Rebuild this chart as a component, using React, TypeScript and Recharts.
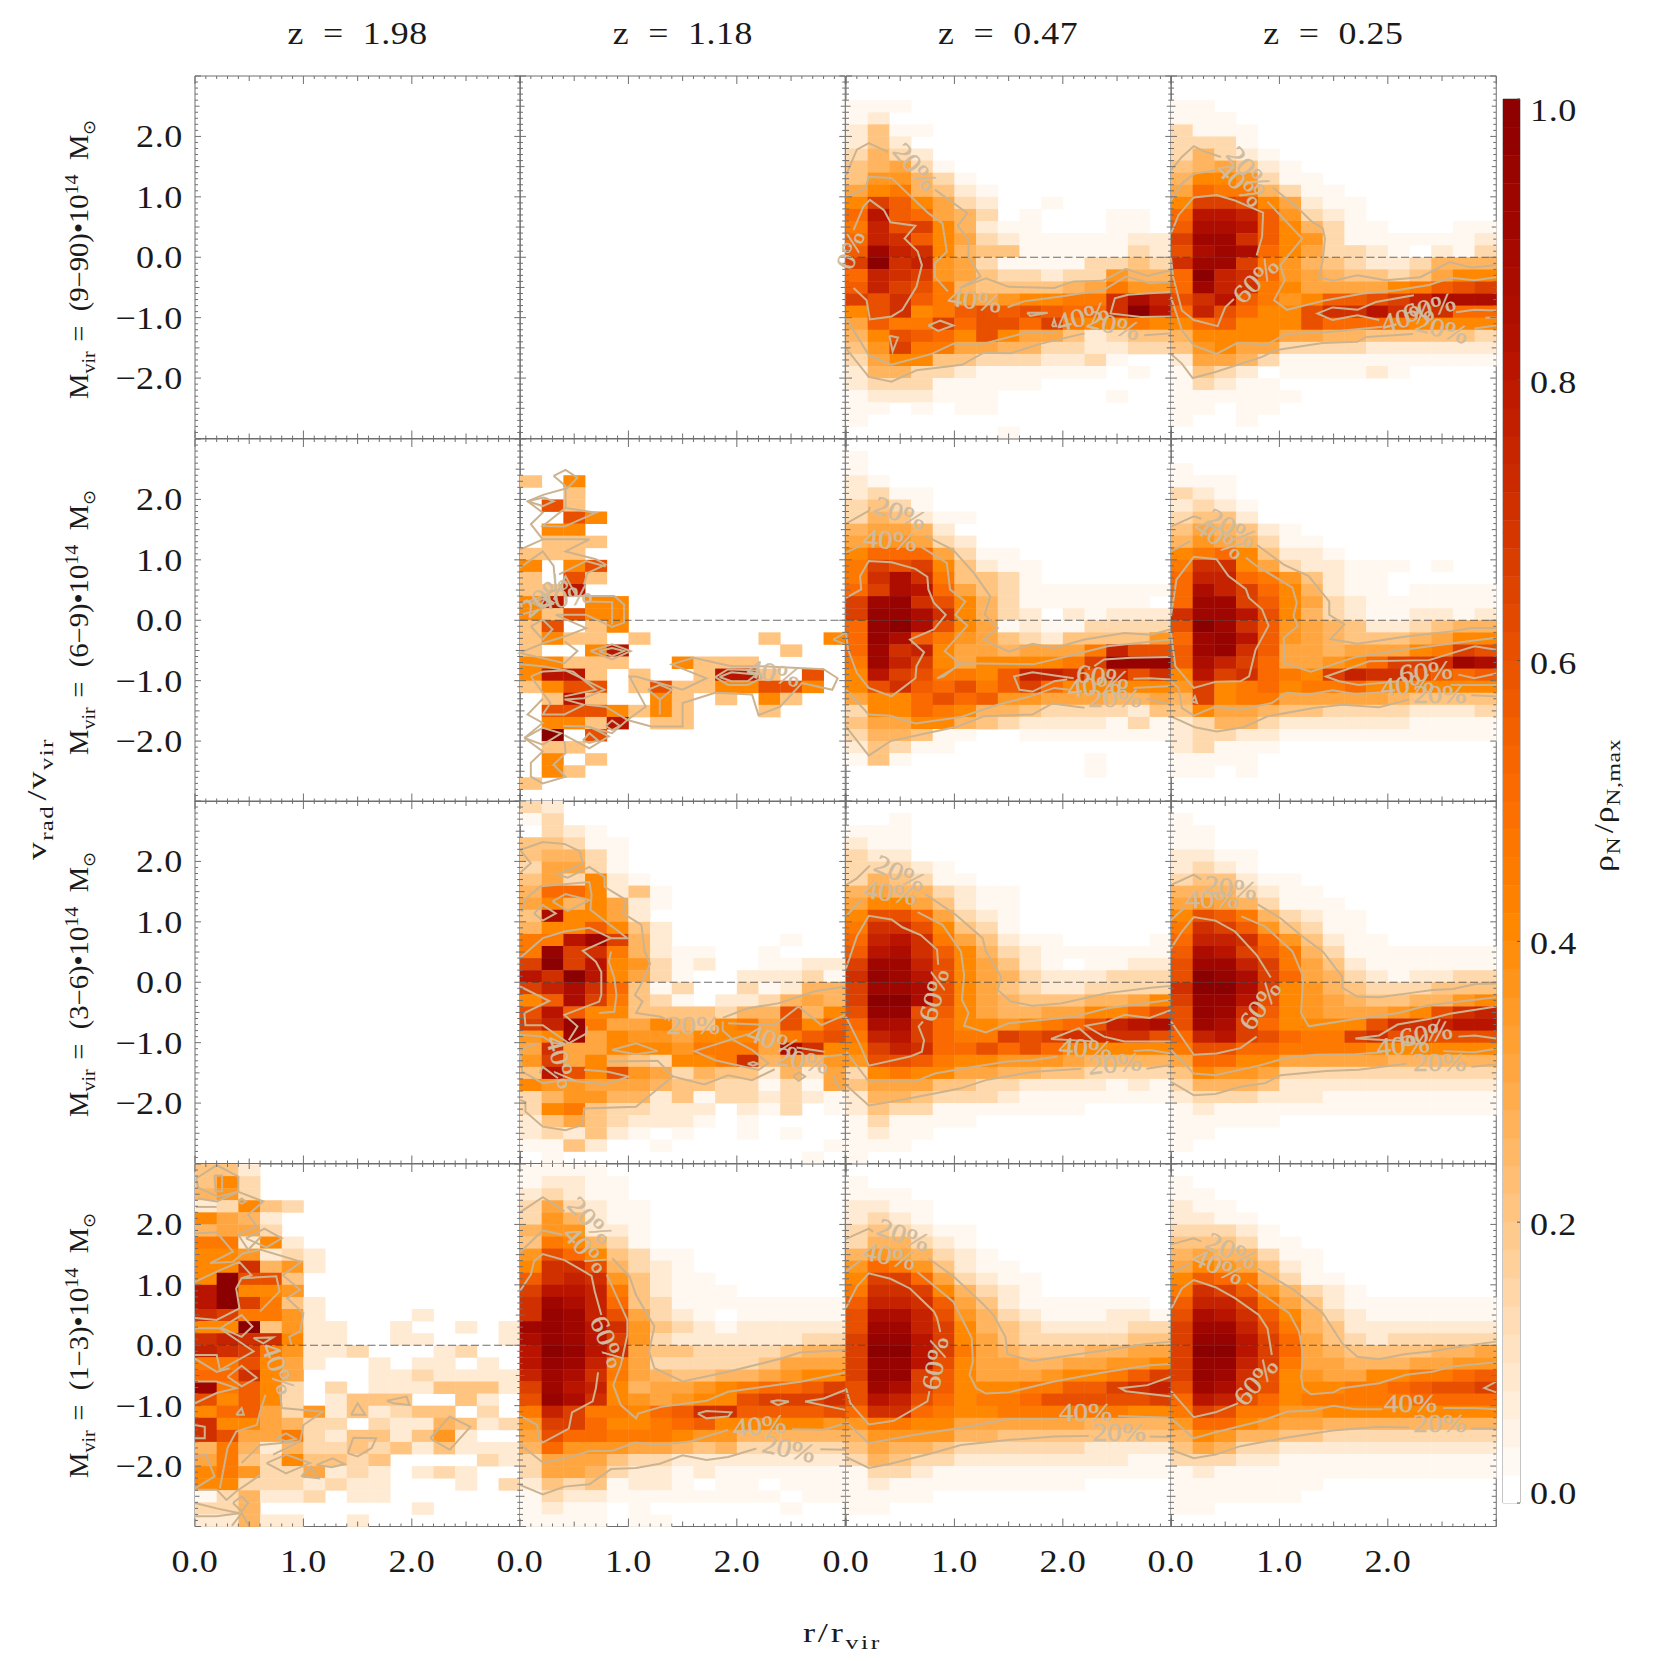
import { Scatter, ScatterChart, XAxis, YAxis } from "recharts";

const PANEL_LEFT = 195;
const PANEL_TOP = 76;
const PANEL_W = 325.25;
const PANEL_H = 362.5;
const PAD = 90;
const CELL_W = PANEL_W / 15;
const CELL_H = PANEL_H / 30;

const INK = "#1a1a1a";
const FRAME = "#6f6f6f";
const CONTOUR = "#ccb38f";
const TAG = "#cfbb9e";
const SERIF = "'Liberation Serif', serif";

const REDSHIFTS = ["1.98", "1.18", "0.47", "0.25"];
const MASS_BINS = ["(9−90)", "(6−9)", "(3−6)", "(1−3)"];
const MASS_LABEL_START = [399, 755, 1117, 1478];

const X_TICKS = [0, 0.1, 0.2, 0.3, 0.4, 0.5, 0.6, 0.7, 0.8, 0.9, 1, 1.1, 1.2, 1.3, 1.4, 1.5, 1.6, 1.7, 1.8, 1.9, 2, 2.1, 2.2, 2.3, 2.4, 2.5, 2.6, 2.7, 2.8, 2.9, 3];
const Y_TICKS = [-3, -2.9, -2.8, -2.7, -2.6, -2.5, -2.4, -2.3, -2.2, -2.1, -2, -1.9, -1.8, -1.7, -1.6, -1.5, -1.4, -1.3, -1.2, -1.1, -1, -0.9, -0.8, -0.7, -0.6, -0.5, -0.4, -0.3, -0.2, -0.1, 0, 0.1, 0.2, 0.3, 0.4, 0.5, 0.6, 0.7, 0.8, 0.9, 1, 1.1, 1.2, 1.3, 1.4, 1.5, 1.6, 1.7, 1.8, 1.9, 2, 2.1, 2.2, 2.3, 2.4, 2.5, 2.6, 2.7, 2.8, 2.9, 3];
const BAR_TICKS = [0, 0.2, 0.4, 0.6, 0.8, 1];
const BAR_LEVELS = [0, 0.02, 0.04, 0.06, 0.08, 0.1, 0.12, 0.14, 0.16, 0.18, 0.2, 0.22, 0.24, 0.26, 0.28, 0.3, 0.32, 0.34, 0.36, 0.38, 0.4, 0.42, 0.44, 0.46, 0.48, 0.5, 0.52, 0.54, 0.56, 0.58, 0.6, 0.62, 0.64, 0.66, 0.68, 0.7, 0.72, 0.74, 0.76, 0.78, 0.8, 0.82, 0.84, 0.86, 0.88, 0.9, 0.92, 0.94, 0.96, 0.98];
const ZERO_LINE = [{ x: 0, y: 0 }, { x: 3, y: 0 }];

// colour table
const STOP_V = [0, 0.1, 0.2, 0.3, 0.4, 0.5, 0.6, 0.7, 0.8, 0.9, 1];
const STOP_RGB = [
  [255, 255, 255],
  [255, 226, 194],
  [255, 196, 128],
  [255, 166, 64],
  [255, 136, 0],
  [250, 106, 0],
  [232, 80, 0],
  [208, 48, 0],
  [184, 20, 0],
  [160, 6, 0],
  [139, 0, 0],
];

// density per cell, top row first, one char per cell, index into LEVEL_V
const LEVEL_CHARS = "0123456789abcdefghijk";
const LEVEL_V = [0, 0.025, 0.07, 0.13, 0.2, 0.25, 0.3, 0.35, 0.4, 0.45, 0.5, 0.55, 0.6, 0.65, 0.7, 0.75, 0.8, 0.85, 0.9, 0.95, 1];

const RHO_M1_Z047 = [
  "000000000000000", "000000000000000", "111000000000000", "120000000000000", "241100000000000", "242000000000000",
  "353200000000000", "456310000000000", "477531000000000", "689542100000000", "8db863200100000", "agba65301000110",
  "9fcd85211000110", "afeb86321111122", "bife85441111132", "dkef76311113343", "afed76433233755", "bfdc95444456977",
  "dceb97678899ehf", "8ce89bcbcbaaekg", "6b99daccad98898", "58cba8c86642344", "47d996655332233", "368844333223100",
  "255332111111010", "233311111000000", "122211100000100", "110101100000000", "100000000000000", "000000010000000",
];
const RHO_M1_Z025 = [
  "000000000000000", "000000000000000", "110000000000000", "111000000000000", "311100000000000", "333100000000000",
  "353210000000000", "456421000000000", "588731100000000", "6a9953110000000", "8ddc86211000000", "aggfb7321000000",
  "bhhgb8531100011", "diieb8731111112", "chiha8633210213", "eiid97543223555", "akfea7654434688", "aife98666689bcd",
  "cegb978bbcdfhhh", "afca88ceegeeeaa", "8ab888caaa98888", "588886655444443", "478663333222222", "266531111111111",
  "143201111210000", "132110000000000", "111111000000000", "110110000000000", "100100000000000", "000000000000000",
];
const RHO_M2_Z118 = [
  "000000000000000", "000000000000000", "000000000000000", "408000000000000", "004000000000000", "0c4000000000000",
  "00c800000000000", "088000000000000", "044400000000000", "444000000000000", "808c00000000000", "40c400000000000",
  "44g000000000000", "8g0880000000000", "84c880000000000", "4c0480000000000", "484404000004008", "4008g0000000400",
  "884440084440000", "8gg404004gg40c0", "48cc04c4488cc80", "04g400840408400", "0ccc84840004000", "0884g0440000000",
  "0k0c00000000000", "044000000000000", "080400000000000", "084000000000000", "400000000000000", "000000000000000",
];
const RHO_M2_Z047 = [
  "000000000000000", "100000000000000", "100000000000000", "210000000000000", "231100000000000", "343100000000000",
  "354211000000000", "566520000000000", "677632000000000", "8aaa63110000000", "9dcd84211000000", "9ehe94431000000",
  "adhga6431111111", "dijec8531111110", "djjhe8532021222", "ajkhc8612113333", "ajhb97643244447", "aief86656669fcc",
  "9ifd8688889djjj", "8gdc998bffebece", "8cebac9bda88888", "688acab77666556", "388a98554333324", "466885432222131",
  "355411001111111", "243110000000000", "141000000001000", "000000000001000", "000000000000000", "000000000000000",
];
const RHO_M2_Z025 = [
  "000000000000000", "000000000000000", "100000000000000", "111000000000000", "321000000000000", "232100000000000",
  "344200000000000", "465421000000000", "576531100000000", "89a842210000000", "9ee863221110100", "affa97421100000",
  "ahfda8521101111", "aiidb8632111111", "eiigc8532112212", "ckieb7654223455", "aijgb7654445688", "bijeb66566689dc",
  "bhfda6678addeih", "8gdea98dfeecbab", "7d89a899a888888", "5d8996666654444", "486654433332223", "235532222221111",
  "233221111111111", "231110000000000", "111100000000000", "110100000000000", "000000000000000", "000000000000000",
];
const RHO_M3_Z118 = [
  "320000000000000", "130000000000000", "032100000000000", "443110000000000", "455310000000000", "366310000000000",
  "463821000000000", "5aa824100000000", "685862100000000", "4h8862000000000", "588b84200000000", "99gid5200000100",
  "9jde95211001000", "dkdg87312001122", "gekg86310022231", "dfhea4130031255", "8bhd94310223565", "cgb884444355c58",
  "dfj966854896c8b", "78i6877688869bc", "6e6688879996he8", "7d68543889e5657", "4gc8c7635442526", "877666544331316",
  "357755241332321", "389433222021301", "246432221010000", "232421010010100", "114200100000001", "010000000000010",
];
const RHO_M3_Z047 = [
  "000000000000000", "001000000000000", "111000000000000", "211000000000000", "322000000000000", "333210000000000",
  "354311000000000", "565532110000000", "688642110000000", "8cca63210000000", "9eec84310000000", "afge96421100001",
  "bgheb8532111111", "diifc8642101122", "ejigc8653222333", "diihc8643223333", "dkkhc8654445568", "cjjcb86556688ac",
  "ahhda88789acfgh", "9fgda99dcdeeeec", "8dfeaacaca88888", "7ccb98877765555", "389886655443333", "466644332222121",
  "255433321111111", "243311111110000", "131111000000000", "121100000000000", "111000000000000", "100000000000000",
];
const RHO_M3_Z025 = [
  "000000000000000", "100000000000000", "110000000000000", "110000000000000", "221100000000000", "232100000000000",
  "344211000000000", "555321100000000", "676531110000000", "8cb953211000000", "9edb74311000000", "affea7421100000",
  "bhgdb9531111111", "ciifd9642111111", "ckjhda653212233", "ekkhd8754333444", "djjgc8765445578", "cjieb8766678cef",
  "cihda8888ceefgg", "afgdca99decdccc", "9ccaa9999888888", "6aa886666655555", "487763333333333", "355542222222222",
  "233322211111111", "121111111111111", "111110000000000", "110000000000000", "100000000000000", "000000000000000",
];
const RHO_M4_Z198 = [
  "442000000000000", "483000000000000", "573000000000000", "238430000000000", "865200000000000", "566300000000000",
  "992820000000000", "887232000000000", "88e572000000000", "8kcc40000000000", "gk8870000000000", "gkd942000000000",
  "ed9972000020000", "88k472200200202", "efee82200220002", "fed972230002300", "99c862002022020", "aae860002232222",
  "i9b830302224442", "c8b830244400420", "8ab637242344030", "e88653303225423", "ec6693244247200", "595253343424222",
  "694384434000032", "897336232023200", "883332322000203", "135223022000000", "335000000020000", "225220020000000",
];
const RHO_M4_Z118 = [
  "111100000000000", "122110000000000", "232110000000000", "363211000000000", "375211000000000", "577221000000000",
  "498531000000000", "7ca843110000000", "8eec53210000000", "befe74211000000", "dggf94211100000", "eihfa4311111111",
  "ejifc6321011111", "ijige7432122222", "hjigd7322222233", "gkjge6443333455", "gjif96333334666", "fihe96544556788",
  "digf8566789aabd", "cjhe876788cddde", "9fd998abeebbbbc", "7dda889ab888887", "6caa99987755555", "5a7776654533333",
  "366643322222222", "366532212111111", "243412210110111", "132211111111011", "121101000000100", "111101100000000",
];
const RHO_M4_Z047 = [
  "000000000000000", "100000000000000", "111000000000000", "221100000000000", "232100000000000", "343211000000000",
  "355321000000000", "576532100000000", "7a9742110000000", "8dda63211000000", "9eed85321000000", "bffeb6421111110",
  "chhfc7532111221", "ciifd8543222233", "djjgd8643333344", "dkkgd9654445566", "djjgc8665566778", "djjdb86667889bd",
  "cihdb88899bbdef", "cgfca899acccccd", "aeea98899999988", "799886666665555", "577775544444444", "465543333332222",
  "354332222222211", "133211111111111", "121111111110000", "111100000000000", "110000000000000", "000000000000000",
];
const RHO_M4_Z025 = [
  "000000000000000", "100000000000000", "110000000000000", "211000000000000", "221100000000000", "333210000000000",
  "444311000000000", "565531100000000", "687642100000000", "8ba953110000000", "9edb75321000000", "bffd96421111111",
  "chgeb8532111111", "diifc9542222222", "djjgda643233333", "dkkgda654444556", "djjfd9665556677", "djiec87668899ab",
  "cihec88899abccd", "agfca899999aaaa", "9dc997788888888", "7aa876655555555", "587554433333333", "465332222222222",
  "333221111111111", "121111111111111", "111111100000000", "111111000000000", "110000000000000", "000000000000000",
];

// contour polylines as [r/rvir, vrad/vvir]
const LINES_M1_Z047 = [
  [[0, 1.36], [0.1, 1.78], [0.21, 1.89], [0.39, 1.74]],
  [[0.82, 1.12], [1.12, 0.73], [1.03, 0.52], [1.13, 0.29], [1.13, 0.01], [1.24, -0.32], [1.05, -0.51], [1.29, -0.35], [1.5, -0.49], [1.92, -0.51], [2.1, -0.4], [2.37, -0.39], [2.58, -0.19], [2.78, -0.31], [3, -0.21]],
  [[0, -1.51], [0.21, -1.98], [0.42, -2.06], [0.65, -1.87], [1.07, -1.78], [1.27, -1.58], [1.52, -1.59], [1.8, -1.43], [2.2, -1.26]],
  [[2.75, -1.29], [3, -1.26]],
  [[0, 1], [0.18, 1.14], [0.21, 1.33], [0.42, 1.31], [0.76, 0.73], [0.89, 0.56], [0.93, 0.09], [0.82, -0.1], [0.82, -0.32], [0.94, -0.57]],
  [[1.49, -0.83], [1.64, -0.73], [1.98, -0.65], [2.38, -0.54], [2.58, -0.32], [2.81, -0.43], [3, -0.4]],
  [[0, -1.01], [0.21, -1.62], [0.42, -1.78], [0.79, -1.6], [0.99, -1.43], [1.27, -1.43], [1.7, -1.23], [1.95, -1.26]],
  [[0.07, 0.45], [0.16, 0.84], [0.22, 0.95], [0.35, 0.78], [0.41, 0.58], [0.64, 0.52], [0.54, 0.31], [0.66, 0.1], [0.7, -0.13], [0.65, -0.49], [0.52, -0.87], [0.42, -0.98], [0.22, -1.03], [0.19, -0.71], [0.07, -0.51]],
  [[3, -0.57], [2.6, -0.62], [2.48, -0.68], [2.44, -0.93], [2.72, -0.99], [3, -0.98]],
  [[0.76, -1.13], [0.87, -1.05], [0.99, -1.13], [0.85, -1.22], [0.76, -1.13]],
  [[0.4, -1.3], [0.48, -1.33], [0.43, -1.56], [0.4, -1.3]],
  [[1.67, -0.92], [1.86, -0.92], [1.7, -0.97], [1.67, -0.92]],
  [[1.9, -1.14], [1.94, -1.14], [1.92, -1.03], [1.9, -1.14]],
];
const TAGS_M1_Z047 = [
  ["20%", 0.64, 1.5, 50], ["40%", 1.19, -0.71, 8], ["40%", 2.18, -0.98, -15], ["20%", 2.47, -1.12, 15], ["0%", 0.04, 0.12, -70],
];
const LINES_M1_Z025 = [
  [[0, 1.44], [0.1, 1.66], [0.21, 1.84], [0.31, 1.75], [0.46, 1.66]],
  [[0.94, 1.15], [1.16, 0.83], [1.3, 0.59], [1.4, 0.48], [1.42, 0.31], [1.4, -0.05], [1.36, -0.33], [1.5, -0.39], [1.72, -0.3], [1.98, -0.38], [2.3, -0.33], [2.57, -0.08], [2.77, -0.17], [3, -0.13]],
  [[0, -1.6], [0.1, -1.76], [0.2, -2], [0.41, -1.9], [0.84, -1.65], [0.96, -1.54], [1.4, -1.42], [1.72, -1.4], [1.8, -1.32], [2.23, -1.27]],
  [[2.8, -1.18], [3, -1.13]],
  [[0, 0.94], [0.1, 1.22], [0.21, 1.38], [0.41, 1.44]],
  [[0.89, 0.92], [1.21, 0.31], [1.01, -0.13], [1.05, -0.38], [0.95, -0.71], [1.07, -0.87], [1.43, -0.71], [1.77, -0.6], [2.07, -0.55], [2.38, -0.46], [2.58, -0.34], [2.8, -0.38], [3, -0.33]],
  [[0, -0.66], [0.1, -1.21], [0.21, -1.46], [0.42, -1.6], [0.61, -1.42], [0.89, -1.44], [1.06, -1.27], [1.43, -1.24], [1.95, -1.15]],
  [[2.63, -0.91], [2.8, -0.87], [3, -0.88]],
  [[2.9, -1], [3, -1]],
  [[0, 0.39], [0.07, 0.7], [0.21, 0.99], [0.42, 1.03], [0.59, 0.94], [0.85, 0.74], [0.84, 0.34], [0.79, 0.03]],
  [[0.58, -0.69], [0.5, -0.83], [0.43, -1.14], [0.21, -1.04], [0.1, -0.88], [0.02, -0.33], [0, 0]],
  [[2.24, -0.63], [1.89, -0.74], [1.72, -0.87], [1.49, -0.83], [1.35, -0.93], [1.49, -1.04], [1.72, -0.96], [1.92, -1.04]],
];
const TAGS_M1_Z025 = [
  ["20%", 0.72, 1.44, 50], ["40%", 0.64, 1.22, 45], ["60%", 0.78, -0.38, -45], ["40%", 2.18, -0.99, -15], ["60%", 2.38, -0.83, -15], ["20%", 2.5, -1.18, 15],
];
const LINES_M2_Z118 = [
  [[0.31, 2.39], [0.42, 2.49], [0.53, 2.36], [0.44, 2.19], [0.31, 2.39]],
  [[0.44, 2.19], [0.22, 2.08], [0.07, 1.97], [0.21, 1.78], [0.1, 1.59], [0.21, 1.34], [0, 1.17]],
  [[0.07, 1.97], [0.22, 2.03], [0.31, 1.97], [0.21, 1.89], [0.07, 1.97]],
  [[0.42, 2.17], [0.42, 1.86], [0.7, 1.78], [0.41, 1.55], [0.21, 1.56], [0.42, 1.86]],
  [[0.21, 1.34], [0.64, 1.34], [0.42, 1.14], [0.7, 1.01], [0.79, 0.92], [0.62, 0.78], [0.59, 0.59]],
  [[0, 0.87], [0.21, 1.14], [0.31, 0.9], [0.33, 0.51], [0.21, 0.4]],
  [[0.36, 0.76], [0.61, 0.98], [0.79, 0.89]],
  [[0.31, 0.34], [0.42, 0.73], [0.52, 0.4], [0.61, 0.4], [0.87, 0.4], [0.96, 0.26], [0.96, -0.04], [0.85, -0.11], [0.61, 0.09], [0.33, 0.09]],
  [[0.61, 0.31], [0.85, 0.3], [0.85, -0.07]],
  [[0, 0.26], [0.21, 0.4], [0.31, 0.29], [0.19, 0.18], [0, 0.09]],
  [[0.11, 0.29], [0.21, 0.36], [0.28, 0.29], [0.21, 0.2], [0.11, 0.29]],
  [[0.1, -0.1], [0.21, 0.01], [0.3, -0.15], [0.21, -0.32], [0.1, -0.1]],
  [[0.33, 0.09], [0.61, -0.13], [0.41, -0.27], [0.21, -0.38], [0, -0.54], [0.41, -0.71], [0.53, -0.51], [0.41, -0.35]],
  [[0.65, -0.51], [0.85, -0.4], [1.02, -0.51], [0.85, -0.65], [0.65, -0.51]],
  [[0.73, -0.51], [0.85, -0.46], [0.96, -0.51], [0.85, -0.59], [0.73, -0.51]],
  [[0, -0.73], [0.21, -0.76], [0.49, -0.85], [0.7, -1.15], [0.41, -1.26]],
  [[0.1, -0.93], [0.21, -0.85], [0.42, -0.83], [0.59, -0.98], [0.78, -1.15], [0.59, -1.29], [0.41, -1.31], [0.59, -1.4], [0.41, -1.56], [0.21, -1.56], [0.28, -1.37], [0.21, -1.2], [0.1, -0.93]],
  [[0.61, -1.4], [0.79, -1.43], [0.99, -1.65], [0.85, -1.87], [0.61, -1.76], [0.4, -1.75]],
  [[0.79, -1.75], [0.85, -1.66], [0.92, -1.75], [0.85, -1.82], [0.79, -1.75]],
  [[0.99, -1.65], [1.16, -1.43], [1.01, -0.93], [1.07, -0.93], [1.5, -1.15], [1.72, -0.96], [1.4, -0.73], [1.6, -0.62], [1.95, -0.76], [2.2, -0.76], [2.8, -0.81], [2.93, -0.96], [2.88, -1.15], [2.6, -1.04], [2.4, -1.43], [2.2, -1.57], [2.14, -1.23], [1.8, -1.2], [1.5, -1.37], [1.5, -1.76], [1.21, -1.76], [0.99, -1.65]],
  [[1.8, -0.94], [1.92, -0.81], [2.2, -0.83], [2.23, -0.96], [2.1, -1.07], [1.92, -1.07], [1.8, -0.94]],
  [[1.84, -0.94], [1.95, -0.86], [2.18, -0.9], [2.1, -1.01], [1.95, -1.01], [1.84, -0.94]],
  [[1.18, -1.15], [1.29, -1.07], [1.4, -1.15], [1.29, -1.31], [1.29, -1.56]],
  [[1.18, -1.15], [1.29, -1.31]],
  [[2.89, -0.32], [3, -0.21]],
  [[2.89, -0.32], [3, -0.4]],
  [[0.04, -1.95], [0.21, -1.7], [0.07, -1.56], [0.21, -1.3]],
  [[0.04, -1.95], [0.21, -2.17], [0.1, -2.36], [0.1, -2.59], [0.21, -2.7], [0.42, -2.59], [0.31, -2.39], [0.42, -2.2], [0.41, -2]],
  [[0.04, -1.95], [0.21, -1.78], [0.38, -1.87], [0.21, -2.06], [0.04, -1.95]],
  [[0.41, -1.9], [0.64, -2.12], [0.82, -1.92], [0.64, -1.76]],
  [[0.58, -1.99], [0.64, -1.87], [0.72, -1.99], [0.64, -2.03], [0.58, -1.99]],
];
const TAGS_M2_Z118 = [
  ["40%", 2.34, -0.87, 12], ["20%", 0.22, 0.42, -40], ["40%", 0.42, 0.38, -10],
];
const LINES_M2_Z047 = [
  [[0, 1.6], [0.21, 1.81], [0.22, 1.88]],
  [[0.73, 1.4], [0.99, 1.16], [1.18, 0.78], [1.33, 0.4], [1.28, 0.09], [1.4, -0.13], [1.27, -0.32], [1.5, -0.52], [1.72, -0.39], [1.92, -0.46], [2.2, -0.32], [2.57, -0.21], [2.81, -0.24], [3, -0.15]],
  [[0, -1.76], [0.21, -2.24], [0.41, -2], [1.03, -1.76], [1.27, -1.59], [1.72, -1.56], [1.9, -1.38], [2.2, -1.45]],
  [[2.77, -1.3], [3, -1.4]],
  [[0, 1.12], [0.14, 1.24]],
  [[0.69, 1.22], [0.93, 0.95], [0.96, 0.51], [1.1, 0.31], [1.01, 0.09], [1.12, -0.09], [0.91, -0.51], [1.06, -0.73], [0.84, -0.96], [0.9, -0.93], [1.06, -0.71], [1.73, -0.73], [2.1, -0.57], [2.41, -0.43], [3, -0.32]],
  [[0, -1.15], [0.21, -1.56], [0.41, -1.58], [0.64, -1.71], [1.06, -1.6], [1.4, -1.4], [1.7, -1.26], [1.92, -1.12], [2.06, -1.15]],
  [[2.65, -1.12], [3, -1.09]],
  [[0, 0.37], [0.14, 0.51], [0.13, 0.73], [0.21, 0.98], [0.42, 0.96], [0.64, 0.85], [0.75, 0.72], [0.76, 0.51], [0.81, 0.29], [0.92, 0.09], [0.81, -0.15], [0.59, -0.32], [0.72, -0.53], [0.65, -0.76], [0.64, -0.96], [0.42, -1.26], [0.21, -1.12], [0.1, -0.87], [0.02, -0.49], [0, -0.21]],
  [[2.1, -0.96], [1.72, -0.86], [1.55, -0.93], [1.6, -1.15], [1.72, -1.18], [1.92, -1.01], [2.04, -0.98]],
  [[2.29, -0.76], [2.38, -0.65], [2.63, -0.62], [3, -0.61]],
  [[2.65, -0.97], [2.8, -0.96], [3, -0.98]],
];
const TAGS_M2_Z047 = [
  ["20%", 0.5, 1.78, 20], ["40%", 0.41, 1.33, 5], ["60%", 2.37, -0.93, 8], ["40%", 2.29, -1.09, -5], ["20%", 2.48, -1.29, 0],
];
const LINES_M2_Z025 = [
  [[0, 1.55], [0.21, 1.72], [0.28, 1.68]],
  [[0.79, 1.25], [1.04, 0.92], [1.27, 0.73], [1.46, 0.31], [1.46, 0.09], [1.6, -0.07], [1.47, -0.31], [1.72, -0.39], [2.17, -0.27], [2.6, -0.18], [2.77, -0.13], [3, -0.13]],
  [[0, -1.59], [0.22, -1.77], [0.42, -1.84], [0.67, -1.77], [0.89, -1.59], [1.33, -1.45], [1.58, -1.4], [1.92, -1.44], [2.2, -1.31]],
  [[2.77, -1.24], [3, -1.26]],
  [[0, 1.14], [0.18, 1.31]],
  [[0.69, 1.04], [0.78, 0.91], [1.12, 0.54], [1.16, 0.29], [1.13, 0.07], [1.17, -0.1], [1.04, -0.29], [1.05, -0.71], [1.29, -0.85], [1.7, -0.61], [2.14, -0.49], [2.6, -0.38], [3, -0.29]],
  [[0, -1.01], [0.07, -1.12], [0.1, -1.45], [0.21, -1.58], [0.41, -1.43], [0.64, -1.48], [0.93, -1.37], [1.07, -1.2], [1.27, -1.23], [1.49, -1.16], [1.7, -1.22], [1.95, -1.19]],
  [[2.58, -1.07], [3, -1.07]],
  [[0, 0.07], [0.05, 0.67], [0.21, 1.05], [0.42, 1.01], [0.53, 0.73], [0.69, 0.52], [0.72, 0.37], [0.84, 0.18], [0.9, -0.09], [0.78, -0.49], [0.72, -0.93], [0.64, -1.01], [0.41, -1.02], [0.21, -1.12], [0.04, -0.76], [0, -0.21]],
  [[3, -0.49], [2.8, -0.43], [2.38, -0.66], [1.83, -0.68], [1.61, -0.82], [1.43, -0.93], [1.55, -1.01], [1.73, -1.07], [2.1, -1.01]],
  [[2.65, -0.9], [2.8, -0.96], [3, -0.88]],
  [[0.19, -1.34], [0.24, -1.37], [0.22, -1.26], [0.19, -1.34]],
];
const TAGS_M2_Z025 = [
  ["20%", 0.56, 1.53, 30], ["40%", 0.45, 1.36, 35], ["60%", 2.35, -0.85, -5], ["40%", 2.18, -1.07, -5], ["20%", 2.48, -1.22, 0],
];
const LINES_M3_Z118 = [
  [[0, 2.19], [0.21, 2.32], [0.41, 2.29], [0.55, 2.17], [0.58, 1.97], [0.35, 1.78], [0.44, 1.73], [0.64, 1.91], [0.78, 1.74], [0.78, 1.58], [0.98, 1.36], [0.95, 1.14], [1.12, 0.95], [1.15, 0.51], [1.2, 0.31], [1.13, 0.01], [1.06, -0.21], [1.13, -0.32], [1.07, -0.51], [1.3, -0.57], [1.35, -0.62]],
  [[0, 2.19], [0.1, 1.97], [0, 1.81]],
  [[0.02, 1.17], [0.04, 1.36], [0.19, 1.59], [0.64, 1.66], [0.66, 1.45], [0.65, 1.2], [0.99, 0.73], [0.84, 0.73], [0.58, 0.52], [0.7, 0.34], [0.75, 0.17], [0.75, -0.21], [0.73, -0.32], [0.41, -0.54], [0.53, -0.73], [0.45, -0.96]],
  [[0.62, -0.73], [0.61, -0.85], [0.45, -1.01], [0.21, -0.71], [0.05, -0.71], [0.04, -0.51], [0.27, -0.31], [0, -0.07]],
  [[0, 0.4], [0.21, 0.73], [0.41, 0.84], [0.64, 0.9], [0.84, 0.73]],
  [[0.3, 1.34], [0.42, 1.46], [0.64, 1.36], [0.44, 1.18], [0.3, 1.34]],
  [[0.13, 1.14], [0.21, 1.28], [0.33, 1.14], [0.21, 1.02], [0.13, 1.14]],
  [[0.84, 0.51], [0.82, 0.34], [0.87, 0.07], [0.89, -0.21], [0.87, -0.49], [0.73, -0.51]],
  [[0, -0.87], [0.21, -0.9], [0.31, -1.01], [0.41, -1.01]],
  [[0, -1.12], [0.16, -1.01]],
  [[0, -1.15], [0.02, -1.48], [0.21, -1.67], [0.41, -1.62], [0.78, -1.69], [1.01, -1.56]],
  [[0.18, -1.51], [0.21, -1.4], [0.35, -1.59]],
  [[0.59, -1.45], [0.81, -1.48], [1, -1.56]],
  [[0.81, -1.31], [1.27, -1.3], [1.41, -1.56], [1.07, -2.06], [0.59, -2.09], [0.58, -2.36], [0.42, -2.45], [0.21, -2.39], [0.05, -2.14], [0.05, -1.98], [0, -1.95]],
  [[0.85, -1.12], [1.07, -1.01], [1.27, -1.14], [1.07, -1.19], [0.85, -1.12]],
  [[1.41, -1.56], [1.7, -1.69], [1.92, -1.54], [2.14, -1.62], [2.35, -1.44]],
  [[2.1, -0.86], [1.61, -1.14], [1.8, -1.29], [2.2, -1.45], [2.29, -1.34], [2.14, -1.12], [1.97, -0.96], [1.87, -0.8], [1.87, -0.65]],
  [[1.92, -0.68], [2.35, -0.71], [2.57, -0.4], [2.78, -0.71], [3, -0.54]],
  [[1.87, -0.59], [2.1, -0.43], [2.38, -0.35], [2.72, -0.15], [3, -0.07]],
  [[2.55, -1.08], [2.81, -1.15]],
  [[2.52, -1.56], [2.57, -1.49], [2.63, -1.56], [2.57, -1.63], [2.52, -1.56]],
  [[2.1, -1.35], [2.15, -1.32], [2.2, -1.35], [2.15, -1.38], [2.1, -1.35]],
  [[2.89, -1.54], [2.95, -1.78], [3, -1.78]],
  [[2.81, -1.23], [3, -1.2]],
];
const TAGS_M3_Z118 = [
  ["40%", 0.38, -1.32, 75], ["20%", 1.6, -0.71, 0], ["40%", 2.34, -0.96, 20], ["20%", 2.61, -1.29, 10],
];
const LINES_M3_Z047 = [
  [[0, 1.61], [0.1, 1.72], [0.22, 1.93]],
  [[0.73, 1.46], [1.01, 1.12], [1.26, 0.73], [1.29, 0.51], [1.43, 0.09], [1.4, -0.13], [1.52, -0.32], [1.72, -0.39], [1.98, -0.35], [2.41, -0.18], [2.81, -0.09], [3, -0.06]],
  [[0, -1.7], [0.21, -2.04], [0.41, -1.98], [0.65, -1.9], [1.05, -1.76], [1.29, -1.62], [1.73, -1.48], [2.17, -1.43]],
  [[2.77, -1.43], [3, -1.37]],
  [[0, 1.09], [0.15, 1.38]],
  [[0.66, 1.16], [0.89, 0.95], [1.06, 0.51], [1.09, 0.12], [1.07, -0.29], [1.13, -0.51], [1.09, -0.72], [1.29, -0.83], [1.5, -0.68], [2.1, -0.57], [2.41, -0.43], [3, -0.29]],
  [[0, -1.15], [0.21, -1.64], [0.64, -1.64], [0.82, -1.51], [1.18, -1.4], [1.49, -1.31], [1.72, -1.29], [1.95, -1.23]],
  [[2.65, -1.14], [2.8, -1.12], [3, -1.18]],
  [[0, 0.23], [0.1, 0.76], [0.21, 1.1], [0.42, 1.04], [0.52, 0.91], [0.69, 0.78], [0.84, 0.54], [0.85, 0.29]],
  [[0.71, -0.65], [0.67, -0.73], [0.72, -0.96], [0.7, -1.15], [0.59, -1.23], [0.21, -1.38], [0.13, -1.04], [0, -0.57]],
  [[1.89, -0.94], [2.15, -0.76], [2.29, -0.98], [1.89, -0.94]],
  [[3, -0.46], [2.8, -0.59], [2.57, -0.54], [2.4, -0.66], [2.21, -0.72], [2.38, -0.9], [2.57, -0.98], [3, -0.98]],
];
const TAGS_M3_Z047 = [
  ["20%", 0.5, 1.81, 25], ["40%", 0.41, 1.49, 8], ["60%", 0.81, -0.21, -75], ["40%", 2.21, -1.09, 5], ["20%", 2.48, -1.34, -5],
];
const LINES_M3_Z025 = [
  [[0, 1.61], [0.21, 1.78], [0.28, 1.7]],
  [[0.8, 1.29], [1.01, 1.06], [1.21, 0.76], [1.4, 0.51], [1.58, 0.09], [1.58, -0.09], [1.72, -0.24], [1.92, -0.25], [2.2, -0.18], [2.41, -0.13], [2.6, -0.11], [2.81, -0.03], [3, -0.02]],
  [[0, -1.65], [0.21, -1.87], [0.41, -1.85], [0.64, -1.73], [0.87, -1.67], [1.01, -1.54], [1.43, -1.47], [1.73, -1.45], [2.17, -1.35]],
  [[2.77, -1.4], [3, -1.36]],
  [[0, 1.03], [0.13, 1.24]],
  [[0.65, 1.09], [0.87, 0.92], [1.12, 0.51], [1.22, 0.09], [1.2, -0.51], [1.27, -0.73], [1.7, -0.61], [2.1, -0.51], [2.37, -0.38], [3, -0.25]],
  [[0, -1.12], [0.21, -1.51], [0.41, -1.54], [0.81, -1.38], [1.07, -1.25], [1.33, -1.2], [1.7, -1.19], [1.95, -1.16]],
  [[2.51, -1.14], [2.8, -1.16], [3, -1.1]],
  [[0, 0.56], [0.1, 0.84], [0.21, 1.08], [0.41, 1.02], [0.59, 0.84], [0.79, 0.45], [0.92, 0.08]],
  [[0.79, -0.9], [0.64, -1.09], [0.42, -1.18], [0.21, -1.2], [0, -0.65]],
  [[3, -0.4], [2.57, -0.52], [2.38, -0.61], [2.09, -0.7], [1.92, -0.88], [1.7, -0.93], [2.1, -0.97], [2.33, -1.04]],
  [[2.48, -0.61], [2.38, -0.98]],
  [[2.65, -0.9], [2.8, -0.88], [3, -0.93]],
];
const TAGS_M3_Z025 = [
  ["20%", 0.55, 1.57, 8], ["40%", 0.38, 1.38, 0], ["60%", 0.82, -0.38, -55], ["40%", 2.14, -1.04, -5], ["60%", 2.35, -0.85, -10], ["20%", 2.48, -1.32, 0],
];
const LINES_M4_Z198 = [
  [[0.01, 2.76], [0.2, 2.98], [0.4, 2.79], [0.4, 2.54], [0.21, 2.46], [0.03, 2.61], [0.01, 2.76]],
  [[0.18, 2.81], [0.25, 2.81], [0.25, 2.55], [0.19, 2.55], [0.18, 2.81]],
  [[0.03, 2.43], [0.2, 2.38], [0.4, 2.54], [0.63, 2.38], [0.49, 2.16], [0.57, 1.97], [0.4, 1.83], [0.49, 1.58], [0.61, 1.8]],
  [[0.01, 2.29], [0.2, 2.29]],
  [[0.4, 2.39], [0.43, 2.43], [0.47, 2.38], [0.43, 2.34], [0.4, 2.39]],
  [[0.47, 1.77], [0.64, 1.93], [0.8, 1.77], [0.66, 1.62], [0.47, 1.77]],
  [[0, 1.85], [0.2, 1.87], [0.35, 1.55], [0.14, 1.36], [0.35, 1.38], [0.44, 1.52], [0.61, 1.58], [0.98, 1.38], [0.81, 1.16], [0.97, 0.92], [0.85, 0.78], [1, 0.53], [0.97, 0.23], [0.87, 0.14], [0.89, 0.01]],
  [[0.78, -0.71], [0.8, -1.04], [1.18, -1.1], [1, -1.32], [0.97, -1.59], [0.72, -1.81]],
  [[0, 1.05], [0.2, 1.22], [0.41, 1.38], [0.52, 1.16], [0.43, 1.11], [0.38, 0.94], [0.41, 0.61], [0.2, 0.42], [0, 0.45]],
  [[0.44, 1.11], [0.75, 1.14], [0.78, 0.89], [0.6, 0.56]],
  [[0.24, 0.29], [0.43, 0.5], [0.53, 0.31], [0.43, 0.14], [0.24, 0.29]],
  [[0.54, 0.12], [0.72, 0.13], [0.63, 0.03], [0.54, 0.12]],
  [[0, 0.28], [0.23, 0.28], [0.54, -0.1], [0.23, -0.41], [0.2, -0.16], [0, -0.16]],
  [[0.3, -0.52], [0.43, -0.34], [0.57, -0.54], [0.43, -0.68], [0.3, -0.52]],
  [[0, -0.6], [0.2, -0.6], [0.38, -0.71], [0.2, -0.79], [0, -0.96]],
  [[0, -0.22], [0.2, -0.44], [0.32, -0.38]],
  [[0.65, -0.82], [0.6, -1.1], [0.57, -1.32], [0.38, -1.43], [0.3, -1.7], [0.23, -2.37]],
  [[0.38, -1.15], [0.43, -1.04], [0.45, -1.15], [0.38, -1.15]],
  [[0, -1.32], [0.09, -1.35], [0.09, -1.54], [0, -1.54]],
  [[0.75, -1.54], [0.84, -1.46], [0.93, -1.55], [0.84, -1.59], [0.75, -1.54]],
  [[0.43, -1.95], [0.6, -1.65], [0.97, -1.59]],
  [[0.66, -1.95], [0.84, -1.81], [1.06, -1.95], [0.84, -2.12], [0.66, -1.95]],
  [[0.98, -2.17], [1.07, -2.01], [1.14, -2.2], [0.98, -2.17]],
  [[1.12, -1.98], [1.27, -1.87], [1.38, -1.97], [1.26, -2.02], [1.12, -1.98]],
  [[1.41, -1.79], [1.46, -1.53], [1.67, -1.54], [1.63, -1.7], [1.5, -1.84], [1.41, -1.79]],
  [[1.44, -1.15], [1.5, -0.96], [1.57, -1.15], [1.44, -1.15]],
  [[1.77, -0.92], [1.95, -0.85], [1.98, -0.99], [1.83, -0.96], [1.77, -0.92]],
  [[2.17, -1.54], [2.35, -1.18], [2.54, -1.35], [2.35, -1.73], [2.17, -1.54]],
  [[0, -1.84], [0.1, -1.81], [0.18, -2.17], [0, -2.37]],
  [[0, -2.39], [0.2, -2.39], [0.29, -2.56], [0.38, -2.42], [0.6, -2.15]],
  [[0, -2.61], [0.2, -2.7], [0.41, -2.78], [0.2, -2.83], [0, -2.83]],
  [[0.35, -2.61], [0.43, -2.5], [0.49, -2.61], [0.43, -2.75], [0.35, -2.61]],
  [[0.34, -2.99], [0.43, -2.78], [0.5, -2.99]],
];
const TAGS_M4_Z198 = [["40%", 0.77, -0.38, 70]];
const LINES_M4_Z118 = [
  [[0, 2.2], [0.21, 2.45], [0.41, 2.22]],
  [[0.85, 1.44], [1.01, 1.14], [1.07, 0.83], [1.24, 0.31], [1.19, -0.1], [1.24, -0.38], [1.5, -0.6], [1.92, -0.44], [2.41, -0.22], [2.58, -0.12], [3, -0.08]],
  [[0, -2.31], [0.21, -2.47], [0.41, -2.34], [0.64, -2.3], [0.84, -2.05], [1.07, -2.03], [1.29, -1.96], [1.5, -1.82], [1.72, -1.9], [1.92, -1.85], [2.18, -1.71]],
  [[2.77, -1.72], [3, -1.73]],
  [[0, 1.54], [0.21, 1.9], [0.39, 1.83]],
  [[0.8, 1.17], [0.99, 0.42], [0.99, 0.17], [0.93, -0.33], [0.86, -0.66], [0.93, -0.99], [1.07, -1.21], [1.09, -1.13], [1.3, -1.02], [1.72, -0.92], [1.92, -0.77], [2.6, -0.6], [3, -0.45]],
  [[0, -1.64], [0.21, -1.94], [0.41, -1.88], [0.64, -1.75], [0.85, -1.75], [1.06, -1.61], [1.29, -1.65], [1.58, -1.59], [1.92, -1.4]],
  [[2.51, -1.39], [2.8, -1.4], [3, -1.29]],
  [[0, 0.9], [0.1, 1.17], [0.13, 1.39], [0.21, 1.51], [0.41, 1.41], [0.66, 1.15], [0.69, 0.89], [0.75, 0.5]],
  [[0.72, -0.45], [0.7, -0.71], [0.67, -0.93], [0.48, -1.11], [0.45, -1.38], [0.21, -1.61], [0.17, -1.54], [0.16, -1.32], [0, -1.17]],
  [[1.64, -1.13], [1.72, -1.09], [1.95, -1.11], [1.92, -1.18], [1.72, -1.21], [1.64, -1.13]],
  [[2.31, -0.93], [2.38, -0.91], [2.48, -0.93], [2.38, -0.99], [2.31, -0.93]],
  [[3, -0.74], [2.8, -0.88], [2.63, -0.93], [3, -1.07]],
];
const TAGS_M4_Z118 = [
  ["20%", 0.65, 2.07, 48], ["40%", 0.61, 1.59, 48], ["60%", 0.81, 0.06, 68], ["40%", 2.21, -1.33, -5], ["20%", 2.48, -1.71, 12],
];
const LINES_M4_Z047 = [
  [[0, 1.76], [0.21, 1.93], [0.25, 1.88]],
  [[0.76, 1.44], [0.99, 1.14], [1.27, 0.67], [1.36, 0.5], [1.47, 0.14], [1.49, -0.15], [1.72, -0.26], [1.98, -0.19], [2.41, -0.08], [2.77, 0.02], [3, 0.06]],
  [[0, -1.85], [0.21, -2.03], [0.41, -1.96], [0.81, -1.78], [1.06, -1.65], [1.49, -1.57], [1.92, -1.51], [2.24, -1.5]],
  [[2.8, -1.51], [3, -1.52]],
  [[0, 1.22], [0.14, 1.41]],
  [[0.66, 1.21], [0.99, 0.72], [1.16, 0.12], [1.17, -0.27], [1.14, -0.49], [1.2, -0.71], [1.29, -0.8], [1.5, -0.78], [1.92, -0.6], [2.41, -0.44], [2.8, -0.33], [3, -0.31]],
  [[0, -1.27], [0.21, -1.62], [0.64, -1.48], [1.13, -1.35], [1.49, -1.22], [1.95, -1.22]],
  [[2.51, -1.17], [3, -1.2]],
  [[0, 0.62], [0.1, 0.97], [0.21, 1.19], [0.41, 1.1], [0.59, 0.94], [0.81, 0.56], [0.84, 0.45], [0.87, 0.22]],
  [[0.77, -0.76], [0.75, -0.93], [0.44, -1.25], [0.21, -1.31], [0.04, -0.96], [0, -0.71]],
  [[3, -0.52], [2.78, -0.66], [2.53, -0.71], [2.58, -0.76], [3, -0.85]],
];
const TAGS_M4_Z047 = [
  ["20%", 0.53, 1.83, 20], ["40%", 0.4, 1.48, 12], ["60%", 0.82, -0.3, -80], ["40%", 2.21, -1.11, 0], ["20%", 2.52, -1.43, 0],
];
const LINES_M4_Z025 = [
  [[0, 1.67], [0.21, 1.77], [0.28, 1.72]],
  [[0.8, 1.27], [1.13, 0.92], [1.4, 0.53], [1.58, 0.03], [1.72, -0.19], [1.92, -0.23], [2.15, -0.15], [2.41, -0.1], [2.72, -0.01], [3, 0.06]],
  [[0, -1.73], [0.21, -1.87], [0.41, -1.81], [0.64, -1.67], [1.06, -1.53], [1.49, -1.41], [1.92, -1.35], [2.2, -1.36]],
  [[2.77, -1.38], [3, -1.38]],
  [[0, 1.19], [0.18, 1.36]],
  [[0.7, 1.03], [1.09, 0.53], [1.18, 0.23], [1.22, -0.16], [1.2, -0.52], [1.22, -0.71], [1.29, -0.81], [1.5, -0.78], [1.57, -0.71], [1.92, -0.63], [2.17, -0.49], [2.41, -0.44], [2.6, -0.35], [3, -0.28]],
  [[0, -1.21], [0.21, -1.54], [0.41, -1.44], [0.84, -1.25], [1.07, -1.1], [1.29, -1.08], [1.5, -1], [1.7, -1.06], [1.95, -1.06]],
  [[2.51, -1.04], [2.8, -1.04], [3, -1.06]],
  [[0, 0.6], [0.1, 0.94], [0.21, 1.08], [0.41, 0.96], [0.59, 0.78], [0.81, 0.5], [0.89, 0.28], [0.93, -0.16]],
  [[0.62, -0.96], [0.41, -1.11], [0.21, -1.19], [0, -0.76]],
  [[3, -0.6], [2.89, -0.71], [3, -0.78]],
];
const TAGS_M4_Z025 = [
  ["20%", 0.56, 1.57, 25], ["40%", 0.44, 1.31, 25], ["60%", 0.78, -0.6, -50], ["40%", 2.21, -0.96, 0], ["20%", 2.48, -1.29, 0],
];

const EMPTY = { rho: null, lines: [], tags: [] };
const GRID = [
  [EMPTY, EMPTY, { rho: RHO_M1_Z047, lines: LINES_M1_Z047, tags: TAGS_M1_Z047 }, { rho: RHO_M1_Z025, lines: LINES_M1_Z025, tags: TAGS_M1_Z025 }],
  [EMPTY, { rho: RHO_M2_Z118, lines: LINES_M2_Z118, tags: TAGS_M2_Z118 }, { rho: RHO_M2_Z047, lines: LINES_M2_Z047, tags: TAGS_M2_Z047 }, { rho: RHO_M2_Z025, lines: LINES_M2_Z025, tags: TAGS_M2_Z025 }],
  [EMPTY, { rho: RHO_M3_Z118, lines: LINES_M3_Z118, tags: TAGS_M3_Z118 }, { rho: RHO_M3_Z047, lines: LINES_M3_Z047, tags: TAGS_M3_Z047 }, { rho: RHO_M3_Z025, lines: LINES_M3_Z025, tags: TAGS_M3_Z025 }],
  [{ rho: RHO_M4_Z198, lines: LINES_M4_Z198, tags: TAGS_M4_Z198 }, { rho: RHO_M4_Z118, lines: LINES_M4_Z118, tags: TAGS_M4_Z118 }, { rho: RHO_M4_Z047, lines: LINES_M4_Z047, tags: TAGS_M4_Z047 }, { rho: RHO_M4_Z025, lines: LINES_M4_Z025, tags: TAGS_M4_Z025 }],
];

function colorOf(v: number) {
  let i = 0;
  while (i < STOP_V.length - 2 && v > STOP_V[i + 1]) i++;
  const t = (v - STOP_V[i]) / (STOP_V[i + 1] - STOP_V[i]);
  const c = STOP_RGB[i].map((a, k) => Math.round(a + (STOP_RGB[i + 1][k] - a) * t));
  return `rgb(${c[0]},${c[1]},${c[2]})`;
}

function cellsOf(rows: string[] | null) {
  const out: { x: number; y: number; v: number }[] = [];
  (rows || []).forEach((row, r) => {
    row.split("").forEach((ch, c) => {
      const level = LEVEL_CHARS.indexOf(ch);
      if (level > 0) out.push({ x: 0.1 + 0.2 * c, y: 2.9 - 0.2 * r, v: LEVEL_V[level] });
    });
  });
  return out;
}

const isWhole = (v: number) => Math.abs(v - Math.round(v)) < 1e-6;
const isHalf = (v: number) => Math.abs(v * 2 - Math.round(v * 2)) < 1e-6;

function CellRect({ cx, cy, payload }: any) {
  return <rect x={cx - CELL_W / 2} y={cy - CELL_H / 2} width={CELL_W + 0.4} height={CELL_H + 0.4} fill={colorOf(payload.v)} />;
}

function BarRect({ cx, cy, payload }: any) {
  return <rect x={cx - 8.5} y={cy - 14.04} width={17} height={28.5} fill={colorOf(payload.v)} />;
}

function TagText({ cx, cy, payload }: any) {
  return (
    <text
      transform={`translate(${cx},${cy}) rotate(${payload.angle}) scale(1.12,1)`}
      textAnchor="middle"
      dominantBaseline="central"
      fontFamily={SERIF}
      fontSize={26}
      fill={TAG}
      stroke={TAG}
      strokeWidth={0.5}
    >
      {payload.text}
    </text>
  );
}

function NoDot() {
  return <g />;
}

function NumberText({ x, y, anchor, children }: any) {
  return (
    <text
      transform={`translate(${x},${y}) scale(1.13,1)`}
      textAnchor={anchor}
      fontFamily={SERIF}
      fontSize={32}
      letterSpacing={0.5}
      fill={INK}
    >
      {children}
    </text>
  );
}

function XTick({ x, y, payload, side, showLabel }: any) {
  const v = payload.value;
  const len = isWhole(v) ? 8 : isHalf(v) ? 5 : 3;
  const dir = side === "bottom" ? -1 : 1;
  return (
    <g>
      <line x1={x} x2={x} y1={y} y2={y + dir * len} stroke={FRAME} />
      {showLabel && isWhole(v) && v < 3 && (
        <NumberText x={x} y={y + 45} anchor="middle">
          {v.toFixed(1)}
        </NumberText>
      )}
    </g>
  );
}

function YTick({ x, y, payload, side, showLabel }: any) {
  const v = payload.value;
  const len = isWhole(v) ? 6 : isHalf(v) ? 4.5 : 3;
  const dir = side === "left" ? 1 : -1;
  return (
    <g>
      <line x1={x} x2={x + dir * len} y1={y} y2={y} stroke={FRAME} />
      {showLabel && isWhole(v) && Math.abs(v) < 3 && (
        <NumberText x={x - 12} y={y + 11} anchor="end">
          {v < 0 ? `−${Math.abs(v).toFixed(1)}` : v.toFixed(1)}
        </NumberText>
      )}
    </g>
  );
}

function Panel({ row, col, spec }: any) {
  const left = PANEL_LEFT + col * PANEL_W - PAD;
  const top = PANEL_TOP + row * PANEL_H - PAD;
  const axisLine = { stroke: FRAME, strokeWidth: 1 };
  const axis = { tickSize: 0, tickMargin: 0, tickLine: false, axisLine, interval: 0 as const };
  return (
    <div style={{ position: "absolute", left, top }}>
      <ScatterChart
        width={PANEL_W + 2 * PAD}
        height={PANEL_H + 2 * PAD}
        margin={{ top: PAD - 1, right: PAD - 1, bottom: PAD - 1, left: PAD - 1 }}
      >
        <XAxis
          {...axis}
          xAxisId="b"
          type="number"
          dataKey="x"
          orientation="bottom"
          domain={[0, 3]}
          ticks={X_TICKS}
          height={1}
          tick={(p: any) => <XTick {...p} side="bottom" showLabel={row === 3} />}
        />
        <XAxis
          {...axis}
          xAxisId="t"
          type="number"
          dataKey="x"
          orientation="top"
          domain={[0, 3]}
          ticks={X_TICKS}
          height={1}
          tick={(p: any) => <XTick {...p} side="top" />}
        />
        <YAxis
          {...axis}
          yAxisId="l"
          type="number"
          dataKey="y"
          orientation="left"
          domain={[-3, 3]}
          ticks={Y_TICKS}
          width={1}
          tick={(p: any) => <YTick {...p} side="left" showLabel={col === 0} />}
        />
        <YAxis
          {...axis}
          yAxisId="r"
          type="number"
          dataKey="y"
          orientation="right"
          domain={[-3, 3]}
          ticks={Y_TICKS}
          width={1}
          tick={(p: any) => <YTick {...p} side="right" />}
        />
        {/* invisible series: an axis only draws its ticks once something is bound to it */}
        <Scatter xAxisId="t" yAxisId="r" data={ZERO_LINE} shape={NoDot} isAnimationActive={false} />
        <Scatter xAxisId="b" yAxisId="l" data={ZERO_LINE} shape={NoDot} isAnimationActive={false} />
        {spec.rho && (
          <Scatter xAxisId="b" yAxisId="l" data={cellsOf(spec.rho)} shape={CellRect} isAnimationActive={false} />
        )}
        {spec.rho && (
          <Scatter
            xAxisId="b"
            yAxisId="l"
            data={ZERO_LINE}
            line={{ stroke: "#3c3c3c", strokeOpacity: 0.75, strokeWidth: 1, strokeDasharray: "8 3.5" }}
            shape={NoDot}
            isAnimationActive={false}
          />
        )}
        {spec.lines.map((pts: number[][], i: number) => (
          <Scatter
            key={i}
            xAxisId="b"
            yAxisId="l"
            data={pts.map(([x, y]) => ({ x, y }))}
            line={{ stroke: CONTOUR, strokeWidth: 2 }}
            shape={NoDot}
            isAnimationActive={false}
          />
        ))}
        {spec.tags.length > 0 && (
          <Scatter
            xAxisId="b"
            yAxisId="l"
            data={spec.tags.map(([text, x, y, angle]: any[]) => ({ text, x, y, angle }))}
            shape={TagText}
            isAnimationActive={false}
          />
        )}
      </ScatterChart>
    </div>
  );
}

function BarTick({ x, y, payload }: any) {
  const v = payload.value;
  const dy = v === 1 ? 22 : v === 0 ? 1 : 13;
  return (
    <g>
      <line x1={x} x2={x - 3} y1={y} y2={y} stroke="#555" />
      <NumberText x={x + 10} y={y + dy} anchor="start">
        {v.toFixed(1)}
      </NumberText>
    </g>
  );
}

function ColorBar() {
  const levels = BAR_LEVELS.map((v) => ({ x: 0.5, y: v + 0.01, v }));
  const edge = { stroke: "#8a8a8a" };
  return (
    <div style={{ position: "absolute", left: 1503 - 20, top: 99 - 20 }}>
      <ScatterChart width={17 + 120} height={1404 + 40} margin={{ top: 19, right: 99, bottom: 19, left: 19 }}>
        <XAxis xAxisId="b" type="number" dataKey="x" domain={[0, 1]} height={1} tick={false} tickLine={false} axisLine={edge} />
        <XAxis xAxisId="t" type="number" dataKey="x" orientation="top" domain={[0, 1]} height={1} tick={false} tickLine={false} axisLine={edge} />
        <YAxis yAxisId="l" type="number" dataKey="y" domain={[0, 1]} width={1} tick={false} tickLine={false} axisLine={edge} />
        <YAxis
          yAxisId="r"
          type="number"
          dataKey="y"
          orientation="right"
          domain={[0, 1]}
          ticks={BAR_TICKS}
          interval={0}
          width={1}
          tickSize={0}
          tickMargin={0}
          tickLine={false}
          axisLine={edge}
          tick={(p: any) => <BarTick {...p} />}
        />
        <Scatter xAxisId="t" yAxisId="r" data={levels} shape={NoDot} isAnimationActive={false} />
        <Scatter xAxisId="b" yAxisId="l" data={levels} shape={BarRect} isAnimationActive={false} />
      </ScatterChart>
    </div>
  );
}

function Sub({ children }: any) {
  return (
    <>
      <tspan dy={7} fontSize={19}>
        {children}
      </tspan>
      <tspan dy={-7}>{"\u200a"}</tspan>
    </>
  );
}

function Captions() {
  const font = { fontFamily: SERIF, fontSize: 27, fill: INK };
  return (
    <svg width={1661} height={1661} style={{ position: "absolute", left: 0, top: 0 }}>
      {REDSHIFTS.map((z, i) => (
        <text
          key={z}
          transform={`translate(${PANEL_LEFT + (i + 0.5) * PANEL_W},44) scale(1.12,1)`}
          textAnchor="middle"
          {...font}
          fontSize={32}
          letterSpacing={0.5}
        >
          {`z\u00a0\u00a0=\u00a0\u00a0${z}`}
        </text>
      ))}
      {MASS_BINS.map((bin, i) => (
        <text key={bin} transform={`translate(88,${MASS_LABEL_START[i]}) rotate(-90) scale(1.06,1)`} {...font}>
          M
          <Sub>vir</Sub>
          {`\u00a0=\u00a0\u00a0${bin}•10`}
          <tspan dy={-10} fontSize={19}>
            14
          </tspan>
          <tspan dy={10}>{"\u00a0\u00a0M"}</tspan>
          <tspan dy={7} fontSize={17}>
            ⊙
          </tspan>
        </text>
      ))}
      <text transform="translate(46,860) rotate(-90) scale(1.32,1)" {...font} letterSpacing={1}>
        v<Sub>rad</Sub>/v<Sub>vir</Sub>
      </text>
      <text transform="translate(803,1642) scale(1.35,1)" {...font} letterSpacing={2}>
        r/r<Sub>vir</Sub>
      </text>
      <text transform="translate(1613,872) rotate(-90) scale(1.25,1)" {...font} letterSpacing={0.5}>
        ρ<Sub>N</Sub>/ρ<Sub>N,max</Sub>
      </text>
    </svg>
  );
}

export default function App() {
  return (
    <div style={{ position: "absolute", left: 0, top: 0, width: 1661, height: 1661, background: "#fff", overflow: "hidden" }}>
      <Captions />
      {GRID.map((cols, row) =>
        cols.map((spec, col) => <Panel key={`${row}-${col}`} row={row} col={col} spec={spec} />),
      )}
      <ColorBar />
    </div>
  );
}
